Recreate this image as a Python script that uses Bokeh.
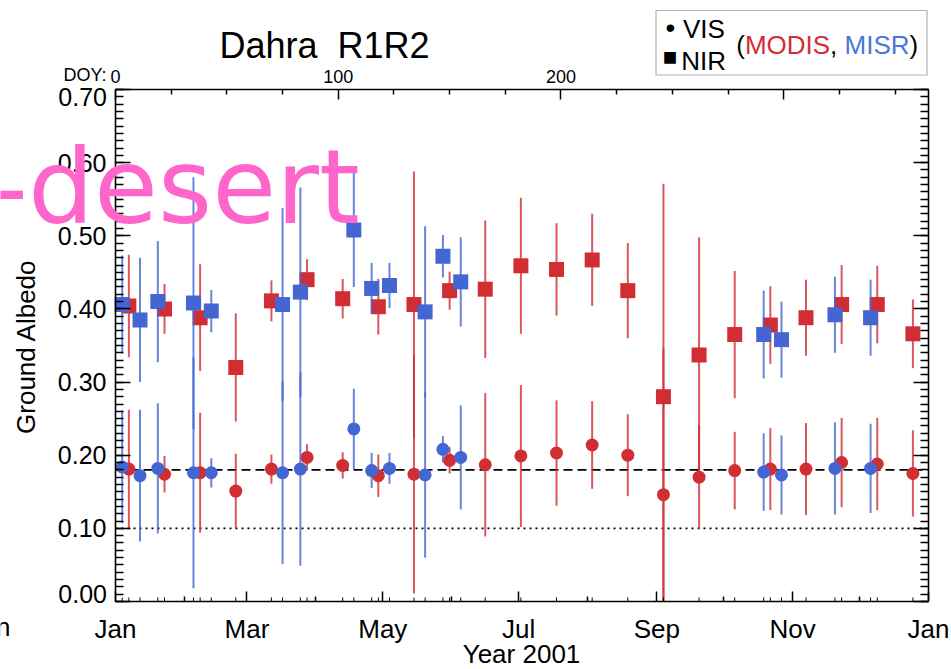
import math
from bokeh.plotting import figure
from bokeh.models import (Range1d, LinearAxis, FixedTicker, Label,
                          BoxAnnotation, ColumnDataSource)
from bokeh.embed import file_html
from bokeh.resources import INLINE

# ---------------------------------------------------------------------------
# Data: ground albedo at Dahra, 2001 (day of year, value, +/- uncertainty)
# ---------------------------------------------------------------------------
modis_doy = [6, 22, 38, 54, 70, 86, 102, 118, 134, 150, 166, 182,
             198, 214, 230, 246, 262, 278, 294, 310, 326, 342, 358]
modis_nir = [0.404, 0.400, 0.388, 0.320, 0.411, 0.440, 0.414, 0.403, 0.406, 0.425, 0.427, 0.459,
             0.454, 0.467, 0.425, 0.280, 0.337, 0.365, 0.378, 0.388, 0.406, 0.406, 0.366]
modis_nir_err = [0.070, 0.034, 0.073, 0.074, 0.028, 0.028, 0.027, 0.038, 0.182, 0.026, 0.094, 0.093,
                 0.063, 0.063, 0.065, 0.291, 0.161, 0.087, 0.053, 0.052, 0.054, 0.053, 0.047]
modis_vis = [0.181, 0.174, 0.176, 0.151, 0.181, 0.197, 0.186, 0.172, 0.174, 0.193, 0.187, 0.199,
             0.203, 0.214, 0.200, 0.146, 0.170, 0.179, 0.181, 0.181, 0.190, 0.188, 0.175]
modis_vis_err = [0.081, 0.025, 0.082, 0.051, 0.020, 0.018, 0.018, 0.029, 0.163, 0.018, 0.098, 0.097,
                 0.072, 0.060, 0.056, 0.200, 0.071, 0.053, 0.056, 0.063, 0.061, 0.063, 0.059]

misr_doy = [3, 11, 19, 35, 43, 75, 83, 107, 115, 123, 139, 147, 155, 291, 299, 323, 339]
misr_nir = [0.406, 0.385, 0.410, 0.408, 0.397, 0.406, 0.423, 0.508, 0.428, 0.432, 0.396, 0.472,
            0.437, 0.365, 0.358, 0.392, 0.388]
misr_nir_err = [0.067, 0.085, 0.083, 0.172, 0.029, 0.132, 0.143, 0.078, 0.035, 0.031, 0.117, 0.029,
                0.061, 0.060, 0.052, 0.052, 0.052]
misr_vis = [0.184, 0.172, 0.182, 0.176, 0.176, 0.176, 0.181, 0.236, 0.179, 0.182, 0.173, 0.208,
            0.197, 0.177, 0.173, 0.182, 0.182]
misr_vis_err = [0.077, 0.090, 0.089, 0.158, 0.020, 0.125, 0.132, 0.055, 0.024, 0.021, 0.113, 0.018,
                0.071, 0.053, 0.054, 0.063, 0.061]

vis_reference = 0.18
low_reference = 0.10

# axis ticks and labels
month_ticks = [0, 59, 120, 181, 243, 304, 365]
month_labels = ["Jan", "Mar", "May", "Jul", "Sep", "Nov", "Jan"]
mid_month_ticks = [31, 90, 151, 212, 273, 334]
doy_ticks = [0, 100, 200, 300]
doy_labels = ["0", "100", "200", ""]
doy_minor = [25, 50, 75, 125, 150, 175, 225, 250, 275, 325, 350]
albedo_ticks = [0.0, 0.1, 0.2, 0.3, 0.4, 0.5, 0.6, 0.7]
albedo_labels = ["", "0.10", "0.20", "0.30", "0.40", "0.50", "0.60", ""]
albedo_minor = [k / 100 for k in range(71)]

RED = "#D12E34"
BLUE = "#4466D2"
BLUE_TEXT = "#4C76DA"
PINK = "#FF66CC"
FONT = "Liberation Sans"

# ---------------------------------------------------------------------------
# Geometry: the plotting box spans pixels FL..FR x FT..FB of the canvas; the
# ranges are widened so that titles and the legend can sit around it.
# ---------------------------------------------------------------------------
W, H = 951, 669
FL, FR, FT, FB = 115, 928, 89, 601
X0, X1 = 0.0, 365.0
Y0, Y1 = 0.0, 0.70
KX = (X1 - X0) / (FR - FL)
KY = (Y1 - Y0) / (FB - FT)
X_LO, X_HI = X0 - FL * KX, X1 + (W - FR) * KX
Y_LO, Y_HI = Y0 - (H - FB) * KY, Y1 + FT * KY


def sx(px):
    return X_LO + px * KX


def sy(py):
    return Y_HI - py * KY


p = figure(width=W, height=H, output_backend="svg", toolbar_location=None,
           x_range=Range1d(X_LO, X_HI), y_range=Range1d(Y_LO, Y_HI),
           x_axis_location=None, y_axis_location=None, min_border=0)
p.title.visible = False
p.grid.grid_line_color = None
p.background_fill_color = "white"
p.border_fill_color = "white"
p.outline_line_color = None


def style_axis(ax, major_in, minor_in, label_size, standoff):
    ax.axis_line_color = "black"
    ax.axis_line_width = 1.6
    ax.major_tick_line_color = "black"
    ax.major_tick_line_width = 1.5
    ax.minor_tick_line_color = "black"
    ax.minor_tick_line_width = 1.5
    ax.major_tick_in = major_in
    ax.major_tick_out = 0
    ax.minor_tick_in = minor_in
    ax.minor_tick_out = 0
    ax.major_label_text_font = FONT
    ax.major_label_text_font_size = f"{label_size}px"
    ax.major_label_text_color = "black"
    ax.major_label_standoff = standoff


left = LinearAxis(ticker=FixedTicker(ticks=albedo_ticks, minor_ticks=albedo_minor),
                  major_label_overrides=dict(zip(albedo_ticks, albedo_labels)),
                  fixed_location=X0, bounds=(Y0, Y1))
style_axis(left, 15, 8, 25, 9)
p.add_layout(left, "left")

right = LinearAxis(ticker=FixedTicker(ticks=albedo_ticks, minor_ticks=albedo_minor),
                   major_label_overrides={t: "" for t in albedo_ticks},
                   fixed_location=X1, bounds=(Y0, Y1))
style_axis(right, 15, 8, 10, 0)
p.add_layout(right, "right")

bottom = LinearAxis(ticker=FixedTicker(ticks=month_ticks, minor_ticks=mid_month_ticks),
                    major_label_overrides=dict(zip(month_ticks, month_labels)),
                    fixed_location=Y0, bounds=(X0, X1))
style_axis(bottom, 10, 5, 26, 12)
p.add_layout(bottom, "below")

top = LinearAxis(ticker=FixedTicker(ticks=doy_ticks, minor_ticks=doy_minor),
                 major_label_overrides=dict(zip(doy_ticks, doy_labels)),
                 fixed_location=Y1, bounds=(X0, X1))
style_axis(top, 10, 5, 18, 7)
p.add_layout(top, "above")

# reference levels across the year
p.line([X0, X1], [vis_reference, vis_reference], line_color="black",
       line_width=1.6, line_dash="9 5")
p.line([X0, X1], [low_reference, low_reference], line_color="black",
       line_width=1.6, line_dash="2 4")


def series(doy, nir, nir_err, vis, vis_err):
    # error bars stop at the bottom of the albedo axis
    return ColumnDataSource(dict(
        x=doy, nir=nir, vis=vis,
        nir_lo=[max(v - e, Y0) for v, e in zip(nir, nir_err)],
        nir_hi=[min(v + e, Y1) for v, e in zip(nir, nir_err)],
        vis_lo=[max(v - e, Y0) for v, e in zip(vis, vis_err)],
        vis_hi=[min(v + e, Y1) for v, e in zip(vis, vis_err)],
    ))


for src, color in ((series(modis_doy, modis_nir, modis_nir_err, modis_vis, modis_vis_err), RED),
                   (series(misr_doy, misr_nir, misr_nir_err, misr_vis, misr_vis_err), BLUE)):
    p.segment(x0="x", y0="nir_lo", x1="x", y1="nir_hi", source=src,
              line_color=color, line_alpha=0.8, line_width=2)
    p.segment(x0="x", y0="vis_lo", x1="x", y1="vis_hi", source=src,
              line_color=color, line_alpha=0.8, line_width=2)
    p.scatter(x="x", y="nir", source=src, marker="square", size=15,
              fill_color=color, line_color=None)
    p.scatter(x="x", y="vis", source=src, marker="circle", size=13,
              fill_color=color, line_color=None)

# small rug ticks on the time axis marking each retrieval date
rug_x = modis_doy + misr_doy
rug_h = 4 * KY
p.segment(x0=rug_x, y0=[Y0] * len(rug_x), x1=rug_x, y1=[Y0 + rug_h] * len(rug_x),
          line_color="black", line_width=1)


def label(text, px, py, size, color="black", align="left", font=FONT, angle=0.0):
    """Place a text whose vertical centre sits at canvas pixel (px, py)."""
    p.add_layout(Label(x=sx(px), y=sy(py), text=text, text_font=font,
                       text_font_size=f"{size}px", text_color=color,
                       text_align=align, text_baseline="middle", angle=angle))


# end labels of the albedo axis sit inside the axis extent
label("0.70", 106.5, 96.5, 25, align="right")
label("0.00", 106.5, 593, 25, align="right")

# titles
label("Dahra\u00a0 R1R2", 324, 44.5, 36, align="center")
label("DOY:", 106, 74, 18, align="right")
label("Year 2001", 521, 653.5, 26, align="center")
label("Ground Albedo", 25.5, 346, 26, align="center", angle=math.pi / 2)
label("Jan", 10, 626, 26, align="right")

# legend box
p.add_layout(BoxAnnotation(left=sx(655.5), right=sx(926.5), top=sy(10), bottom=sy(74.5),
                           fill_color="white", fill_alpha=1.0,
                           line_color="black", line_width=1.2))
label("\u2022", 670, 27, 28, align="center")
label("VIS", 682.5, 28.5, 26)
label("\u25A0", 669.5, 55.5, 24, align="center")
label("NIR", 680.7, 60, 26)
label("(", 735.7, 44.3, 26)
label("MODIS", 744.4, 44.3, 26, color=RED)
label(",", 829.6, 44.3, 26)
label("MISR", 844.0, 44.3, 26, color=BLUE_TEXT)
label(")", 909.0, 44.3, 26)

# handwritten site-type note
label("-desert", -10, 186, 104, color=PINK, font="DejaVu Sans")

open("out.html", "w").write(file_html(p, INLINE))
